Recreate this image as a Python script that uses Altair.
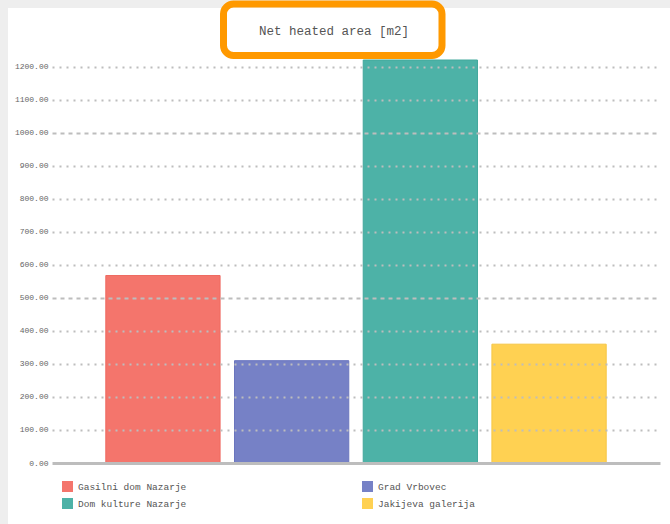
import altair as alt
import pandas as pd

series = ["Gasilni dom Nazarje", "Grad Vrbovec", "Dom kulture Nazarje", "Jakijeva galerija"]
values = [568, 310, 1221, 360]
colors = ["#F4756C", "#7681C6", "#4DB2A7", "#FFD152"]
strokes = ["#EE6A61", "#6A75BE", "#43A89C", "#F5C645"]
legend_order = ["Gasilni dom Nazarje", "Dom kulture Nazarje", "Grad Vrbovec", "Jakijeva galerija"]
y_ticks = [0, 100, 200, 300, 400, 500, 600, 700, 800, 900, 1000, 1100, 1200]
title_text = "Net heated area [m2]"

MONO = "Liberation Mono"

df = pd.DataFrame({"series": series, "value": values})
color_map = dict(zip(series, colors))
stroke_map = dict(zip(series, strokes))
dummy = pd.DataFrame({"k": [0]})
title_df = pd.DataFrame({"t": [title_text]})

card = alt.Chart(dummy).mark_rect(fill="white", clip=False).encode(
    x=alt.value(-44), x2=alt.value(640), y=alt.value(-52), y2=alt.value(480)
)

bars = alt.Chart(df).mark_bar(strokeWidth=1).encode(
    x=alt.X("series:N", sort=series, axis=None,
            scale=alt.Scale(paddingInner=0.112, paddingOuter=0.418)),
    y=alt.Y("value:Q",
            scale=alt.Scale(domain=[0, 1221], nice=False, zero=True),
            axis=alt.Axis(
                values=y_ticks, format=".2f", title=None,
                labelFont=MONO, labelFontSize=8, labelColor="#666",
                labelPadding=4, ticks=False, domain=False,
                grid=True, gridColor="#bdbdbd", gridOpacity=1,
                gridDash={"condition": [
                    {"test": "datum.value === 0", "value": []},
                    {"test": "datum.value % 500 === 0", "value": [4, 4]}],
                    "value": [2, 5]},
                gridWidth={"condition": [
                    {"test": "datum.value === 0", "value": 3}],
                    "value": 2},
                zindex=1,
            )),
    color=alt.Color("series:N",
                    scale=alt.Scale(domain=legend_order,
                                    range=[color_map[s] for s in legend_order]),
                    legend=alt.Legend(
                        title=None, orient="none", legendX=10, legendY=421,
                        columns=2, columnPadding=175, rowPadding=6,
                        symbolType="square", symbolSize=121,
                        symbolStrokeWidth=0, labelFont=MONO,
                        labelFontSize=9.5, labelColor="#555", labelOffset=5)),
    stroke=alt.Stroke("series:N",
                      scale=alt.Scale(domain=legend_order,
                                      range=[stroke_map[s] for s in legend_order]),
                      legend=None),
)

title = alt.Chart(title_df).mark_text(
    font=MONO, fontSize=12.5, color="#555", align="center", baseline="middle"
).encode(text="t:N", x=alt.value(282), y=alt.value(-29))

box = alt.Chart(dummy).mark_rect(
    fill=None, stroke="#FF9900", strokeWidth=7, cornerRadius=10, clip=False
).encode(
    x=alt.value(171.5), x2=alt.value(390), y=alt.value(-56), y2=alt.value(-4.5)
)

chart = alt.layer(card, bars, title, box).properties(
    width=608, height=403,
    autosize=alt.AutoSizeParams(type="none"),
    padding={"left": 52, "top": 60, "right": 10, "bottom": 61},
    background="#eeeeee",
).configure_view(stroke=None)

chart.save("out.html", embed_options={"renderer": "svg", "actions": False})
